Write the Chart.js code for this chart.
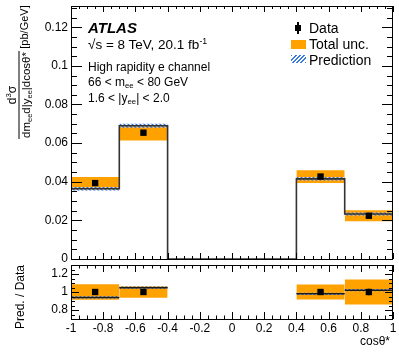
<!DOCTYPE html>
<html>
<head>
<meta charset="utf-8">
<script src="https://cdn.jsdelivr.net/npm/chart.js@4.4.1/dist/chart.umd.min.js"></script>
<style>
html, body { margin: 0; padding: 0; background: #fff; }
#wrap { position: relative; width: 399px; height: 353px; overflow: hidden; font-family: 'Liberation Sans', Arial, sans-serif; color: #000; }
canvas { position: absolute; left: 0; top: 0; }
.t { position: absolute; white-space: nowrap; line-height: 1; }
.rot { position: absolute; white-space: nowrap; line-height: 1; transform: translate(-50%, -50%) rotate(-90deg); }
sub { font-size: 65%; vertical-align: -2px; line-height: 0; }
sup { font-size: 65%; vertical-align: 5px; line-height: 0; }
</style>
</head>
<body>
<div id="wrap">
  <canvas id="main" width="399" height="353"></canvas>
  <canvas id="ratio" width="399" height="353"></canvas>

  <div class="t" style="left:88px;top:20px;font-size:15px;font-weight:bold;font-style:italic;">ATLAS</div>
  <div class="t" style="left:88px;top:37.5px;font-size:13.5px;">√s = 8 TeV, 20.1 fb<sup>-1</sup></div>
  <div class="t" style="left:88px;top:60.5px;font-size:12px;">High rapidity e channel</div>
  <div class="t" style="left:88px;top:75.5px;font-size:12px;">66 &lt; m<sub>ee</sub> &lt; 80 GeV</div>
  <div class="t" style="left:88px;top:91.5px;font-size:12px;">1.6 &lt; |y<sub>ee</sub>| &lt; 2.0</div>

  <div style="position:absolute;left:297.3px;top:22px;width:1.5px;height:12px;background:#000;"></div>
  <div style="position:absolute;left:295px;top:25px;width:6px;height:6px;background:#000;"></div>
  <div style="position:absolute;left:291px;top:40px;width:15px;height:8.5px;background:#ffa200;"></div>
  <div style="position:absolute;left:291px;top:55px;width:15px;height:8px;background:repeating-linear-gradient(-45deg,#3a7be0 0 1.3px,#fff 1.3px 3px);"></div>
  <div class="t" style="left:309px;top:21px;font-size:14px;">Data</div>
  <div class="t" style="left:309px;top:37px;font-size:14px;">Total unc.</div>
  <div class="t" style="left:309px;top:53px;font-size:14px;">Prediction</div>

  <div class="rot" style="left:24px;top:27px;font-size:11px;">[pb/GeV]</div>
  <div class="rot" style="left:19px;top:95px;">
    <div style="display:flex;flex-direction:column;align-items:center;">
      <div style="font-size:12px;line-height:13px;">d<sup>3</sup>σ</div>
      <div style="border-top:1px solid #000;font-size:11.5px;line-height:13px;padding:0 1px;">dm<sub>ee</sub>d|y<sub>ee</sub>|dcosθ*</div>
    </div>
  </div>
  <div class="rot" style="left:20px;top:297px;font-size:12px;">Pred. / Data</div>
  <div class="t" style="right:9px;top:335px;font-size:12px;">cosθ*</div>
</div>

<script>
// bins in cos theta*
const binLo = [-1, -0.7, 0.4, 0.7];
const binHi = [-0.7, -0.4, 0.7, 1];
const binMid = [-0.85, -0.55, 0.55, 0.85];

// upper panel
const dataVal = [0.0393, 0.0654, 0.0427, 0.0224];
const dataErr = [0.0007, 0.0008, 0.0008, 0.0007];
const totUnc = [0.0032, 0.0040, 0.0033, 0.0029];
const predVal = [0.0364, 0.0690, 0.0415, 0.0233];
const predUnc = [0.0009, 0.0010, 0.0009, 0.0008];

// ratio panel
const ratioData = [1, 1, 1, 1];
const ratioErr = [0.02, 0.015, 0.02, 0.035];
const ratioTot = [0.086, 0.063, 0.082, 0.138];
const ratioPred = [0.94, 1.048, 0.98, 1.02];
const ratioPredUnc = [0.012, 0.012, 0.012, 0.012];

// tick labels
const xTicks = [-1, -0.8, -0.6, -0.4, -0.2, 0, 0.2, 0.4, 0.6, 0.8, 1];
const xTickLabels = ['-1', '-0.8', '-0.6', '-0.4', '-0.2', '0', '0.2', '0.4', '0.6', '0.8', '1'];
const yTicks = [0, 0.02, 0.04, 0.06, 0.08, 0.1, 0.12];
const yTickLabels = ['0', '0.02', '0.04', '0.06', '0.08', '0.1', '0.12'];
const rTicks = [0.8, 1, 1.2];
const rTickLabels = ['0.8', '1', '1.2'];

const ORANGE = '#ffa200';
Chart.defaults.font.family = "'Liberation Sans', Arial, sans-serif";
Chart.defaults.font.size = 12;
Chart.defaults.color = '#000';

function hatchPattern() {
  const c = document.createElement('canvas');
  c.width = 4; c.height = 4;
  const g = c.getContext('2d');
  g.fillStyle = 'rgba(255,255,255,0.55)';
  g.fillRect(0, 0, 4, 4);
  g.strokeStyle = '#2f6fdc';
  g.lineWidth = 1.4;
  g.beginPath();
  g.moveTo(-1, -1); g.lineTo(5, 5);
  g.moveTo(-1, 3); g.lineTo(1, 5);
  g.moveTo(3, -1); g.lineTo(5, 1);
  g.stroke();
  return g.createPattern(c, 'repeat');
}
const HATCH = hatchPattern();

// one filled box per bin: top edge as a line, filled down to the lower value
function bands(centre, half, color, order) {
  return centre.map((c, i) => ({
    data: [{x: binLo[i], y: c + half[i]}, {x: binHi[i], y: c + half[i]}],
    fill: {value: c - half[i]},
    backgroundColor: color,
    borderColor: 'rgba(0,0,0,0)',
    borderWidth: 0,
    pointRadius: 0,
    order: order
  }));
}

function errorBars(val, err) {
  return val.map((v, i) => ({
    data: [{x: binMid[i], y: v - err[i]}, {x: binMid[i], y: v + err[i]}],
    borderColor: '#000',
    borderWidth: 1.5,
    pointRadius: 0,
    fill: false,
    order: 0
  }));
}

function markers(val) {
  return {
    data: binMid.map((x, i) => ({x: x, y: val[i]})),
    showLine: false,
    pointStyle: 'rect',
    pointRadius: 4.5,
    backgroundColor: '#000',
    borderWidth: 0,
    order: 0
  };
}

// histogram outline of the prediction, zero where there are no bins
const histPts = [];
binLo.forEach((lo, i) => {
  if (i > 0 && binHi[i - 1] !== lo) {
    histPts.push({x: binHi[i - 1], y: 0}, {x: lo, y: 0});
  }
  histPts.push({x: lo, y: predVal[i]}, {x: binHi[i], y: predVal[i]});
});

const frameTicks = {
  id: 'frameTicks',
  afterDatasetsDraw(chart, args, o) {
    const {ctx, chartArea: a, scales} = chart;
    const sx = scales.x, sy = scales.y;
    const steps = (min, max, step) => {
      const n = Math.round((max - min) / step);
      const out = [];
      for (let i = 0; i <= n; i++) out.push(min + i * step);
      return out;
    };
    const major = (v, m) => Math.abs(v / m - Math.round(v / m)) < 1e-6;
    ctx.save();
    ctx.strokeStyle = '#000';
    ctx.lineWidth = 1;
    ctx.beginPath();
    for (const v of steps(o.xFrom, o.xTo, o.xMinor)) {
      const px = Math.round(sx.getPixelForValue(v)) + 0.5;
      const len = major(v, o.xMajor) ? o.xLen[0] : o.xLen[1];
      ctx.moveTo(px, a.bottom); ctx.lineTo(px, a.bottom - len);
      ctx.moveTo(px, a.top); ctx.lineTo(px, a.top + len);
    }
    for (const v of steps(o.yFrom, o.yTo, o.yMinor)) {
      const py = Math.round(sy.getPixelForValue(v)) + 0.5;
      const len = major(v, o.yMajor) ? o.yLen[0] : o.yLen[1];
      ctx.moveTo(a.left, py); ctx.lineTo(a.left + len, py);
      ctx.moveTo(a.right, py); ctx.lineTo(a.right - len, py);
    }
    ctx.stroke();
    ctx.strokeRect(Math.round(a.left) + 0.5, Math.round(a.top) + 0.5,
      Math.round(a.right - a.left) - 1, Math.round(a.bottom - a.top));
    ctx.restore();
  }
};

function yAxis(min, max, ticks, labels) {
  return {
    min: min, max: max,
    grid: {display: false, drawTicks: false},
    border: {display: false},
    afterBuildTicks: s => { s.ticks = ticks.map(v => ({value: v})); },
    ticks: {padding: 3, callback: (v, i) => labels[i]},
    afterFit: s => { s.width = 71; s.paddingTop = 0; s.paddingBottom = 0; }
  };
}

new Chart(document.getElementById('main'), {
  type: 'line',
  data: {
    datasets: [
      markers(dataVal),
      ...errorBars(dataVal, dataErr),
      {data: histPts, borderColor: '#333', borderWidth: 1.6, pointRadius: 0, fill: false, order: 1},
      ...bands(predVal, predUnc, HATCH, 2),
      ...bands(dataVal, totUnc, ORANGE, 3)
    ]
  },
  options: {
    responsive: false,
    animation: false,
    events: [],
    layout: {padding: {left: 0, right: 6, top: 6, bottom: 94}},
    plugins: {
      legend: {display: false},
      tooltip: {enabled: false},
      frameTicks: {xFrom: -1, xTo: 1, xMinor: 0.05, xMajor: 0.2, xLen: [6, 3],
                   yFrom: 0, yTo: 0.13, yMinor: 0.005, yMajor: 0.02, yLen: [11, 6]}
    },
    scales: {
      x: {type: 'linear', min: -1, max: 1, display: false},
      y: yAxis(0, 0.131, yTicks, yTickLabels)
    }
  },
  plugins: [frameTicks]
});

new Chart(document.getElementById('ratio'), {
  type: 'line',
  data: {
    datasets: [
      markers(ratioData),
      ...errorBars(ratioData, ratioErr),
      ...ratioPred.map((r, i) => ({
        data: [{x: binLo[i], y: r}, {x: binHi[i], y: r}],
        borderColor: '#1a1a1a', borderWidth: 1.5, pointRadius: 0, fill: false, order: 1
      })),
      ...bands(ratioPred, ratioPredUnc, HATCH, 2),
      ...bands(ratioData, ratioTot, ORANGE, 3)
    ]
  },
  options: {
    responsive: false,
    animation: false,
    events: [],
    layout: {padding: {left: 0, right: 6, top: 265, bottom: 0}},
    plugins: {
      legend: {display: false},
      tooltip: {enabled: false},
      frameTicks: {xFrom: -1, xTo: 1, xMinor: 0.05, xMajor: 0.2, xLen: [7, 3.5],
                   yFrom: 0.7, yTo: 1.3, yMinor: 0.05, yMajor: 0.2, yLen: [8, 4]}
    },
    scales: {
      x: {
        type: 'linear', min: -1, max: 1, position: 'bottom',
        grid: {display: false, drawTicks: false},
        border: {display: false},
        afterBuildTicks: s => { s.ticks = xTicks.map(v => ({value: v})); },
        ticks: {padding: 2, maxRotation: 0, autoSkip: false, callback: (v, i) => xTickLabels[i]},
        afterFit: s => { s.height = 34; s.paddingLeft = 0; s.paddingRight = 0; }
      },
      y: yAxis(0.7, 1.3, rTicks, rTickLabels)
    }
  },
  plugins: [frameTicks]
});
</script>
</body>
</html>
